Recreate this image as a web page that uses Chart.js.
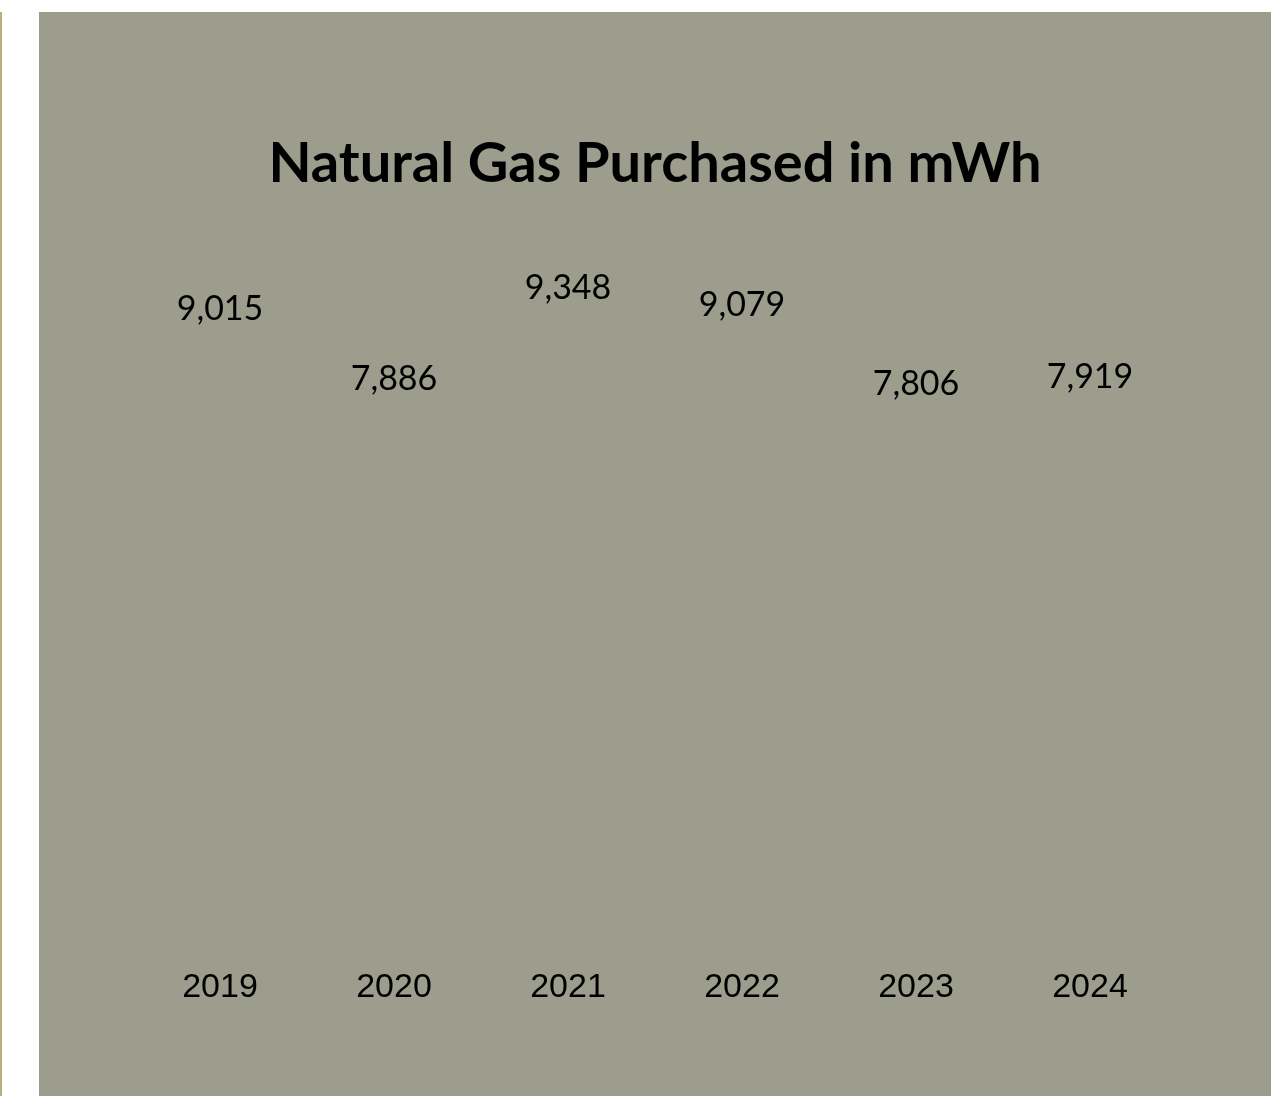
<!DOCTYPE html>
<html>
<head>
<meta charset="utf-8">
<script src="https://cdn.jsdelivr.net/npm/chart.js@4/dist/chart.umd.min.js"></script>
<style>
  html, body { margin: 0; padding: 0; background: #ffffff; }
  body { width: 1281px; height: 1096px; position: relative; overflow: hidden; }
  .rule { position: absolute; left: 0; top: 12px; width: 2px; height: 1084px; background: #b4af7c; }
  .panel { position: absolute; left: 39px; top: 12px; width: 1232px; height: 1084px; background: #9c9d8c; }
  .panel canvas { display: block; }
</style>
</head>
<body>
<div class="rule"></div>
<div class="panel"><canvas id="gas" width="1232" height="1084"></canvas></div>
<script>
const years = ['2019', '2020', '2021', '2022', '2023', '2024'];
const gasMWh = [9015, 7886, 9348, 9079, 7806, 7919];
const chartTitle = 'Natural Gas Purchased in mWh';

const panelColor = '#9c9d8c';

// Writes each bar's value just above its top.
const valueLabels = {
  id: 'valueLabels',
  afterDatasetsDraw(chart) {
    const ctx = chart.ctx;
    const meta = chart.getDatasetMeta(0);
    const values = chart.data.datasets[0].data;
    ctx.save();
    ctx.font = '34px Lato, "Open Sans", sans-serif';
    ctx.fillStyle = '#000000';
    ctx.textAlign = 'center';
    ctx.textBaseline = 'middle';
    meta.data.forEach((bar, i) => {
      ctx.fillText(values[i].toLocaleString('en-US'), bar.x, bar.y - 21);
    });
    ctx.restore();
  }
};

new Chart(document.getElementById('gas'), {
  type: 'bar',
  data: {
    labels: years,
    datasets: [{
      data: gasMWh,
      backgroundColor: panelColor,
      borderWidth: 0
    }]
  },
  options: {
    responsive: false,
    animation: false,
    layout: { padding: { left: 94, right: 94, top: 0, bottom: 0 } },
    plugins: {
      legend: { display: false },
      tooltip: { enabled: false },
      title: {
        display: true,
        text: chartTitle,
        color: '#000000',
        font: { family: 'Lato, "Open Sans", sans-serif', size: 56, weight: 'bold', lineHeight: 1.2 },
        padding: { top: 118, bottom: 71 }
      }
    },
    scales: {
      x: {
        grid: { display: false },
        border: { display: false },
        ticks: {
          color: '#000000',
          padding: 68,
          maxRotation: 0,
          font: { family: '"Liberation Sans", Arial, sans-serif', size: 34, lineHeight: 1.2 }
        },
        afterFit(scale) { scale.height = 205; }
      },
      y: {
        display: false,
        min: 0,
        max: 10000
      }
    }
  },
  plugins: [valueLabels]
});
</script>
</body>
</html>
